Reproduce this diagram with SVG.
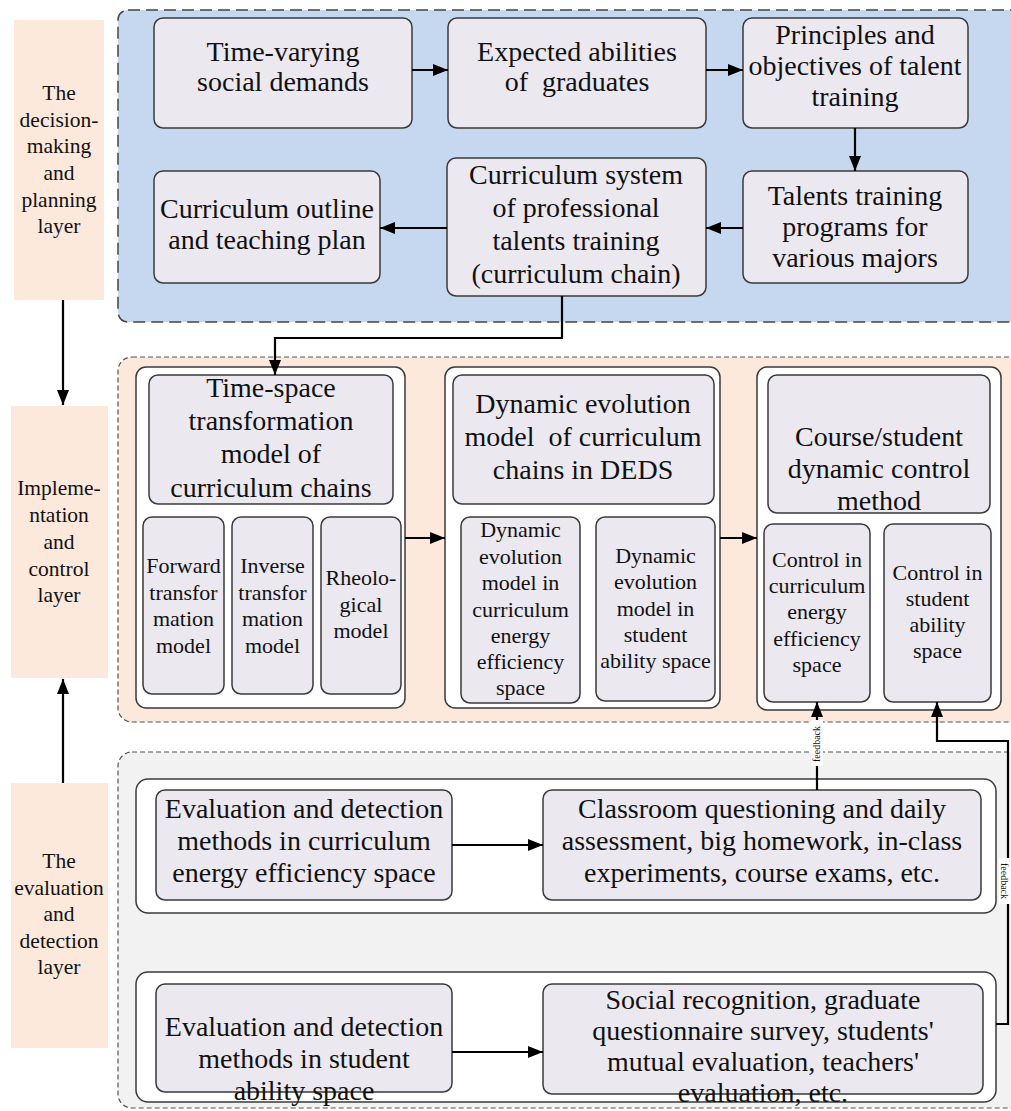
<svg xmlns="http://www.w3.org/2000/svg" width="1011" height="1111" viewBox="0 0 1011 1111">
<style>
text{font-family:'Liberation Serif','Times New Roman',serif;fill:#111;text-anchor:middle}
.big{font-size:28px}
.sm{font-size:22px}
.lay{font-size:21.5px}
.fb{font-size:10px}
.node{fill:#EBE8F0;stroke:#3a3a3a;stroke-width:1.5}
.grp{fill:#fff;stroke:#3a3a3a;stroke-width:1.5}
.layer{fill:#FCE9DC}
.con{fill:none;stroke:#000;stroke-width:2.2}
</style>
<defs>
<marker id="ah" markerUnits="userSpaceOnUse" markerWidth="16" markerHeight="12" refX="15" refY="6" orient="auto">
<path d="M0,0 L15,6 L0,12 z" fill="#000"/>
</marker>
</defs>
<rect width="1011" height="1111" fill="#fff"/>

<g id="containers">
<rect x="118" y="10" width="920" height="312" rx="10" fill="#C6D8EF" stroke="#444" stroke-width="1.5" stroke-dasharray="12,6"/>
<rect x="118" y="357" width="920" height="365" rx="14" fill="#FDE9DC" stroke="#555" stroke-width="1.2" stroke-dasharray="5,3"/>
<rect x="118" y="752" width="920" height="356" rx="14" fill="#F2F2F2" stroke="#555" stroke-width="1.2" stroke-dasharray="5,3"/>
</g>

<g id="layer1">
<rect class="layer" x="14" y="20" width="90" height="280"/>
<text class="lay"><tspan x="59" y="100">The</tspan><tspan x="59" y="127">decision-</tspan><tspan x="59" y="153">making</tspan><tspan x="59" y="180">and</tspan><tspan x="59" y="207">planning</tspan><tspan x="59" y="233">layer</tspan></text>
</g>
<g id="layer2">
<rect class="layer" x="11" y="406" width="97" height="272"/>
<text class="lay"><tspan x="59" y="495">Impleme-</tspan><tspan x="59" y="522">ntation</tspan><tspan x="59" y="549">and</tspan><tspan x="59" y="576">control</tspan><tspan x="59" y="602">layer</tspan></text>
</g>
<g id="layer3">
<rect class="layer" x="11" y="783" width="97" height="265"/>
<text class="lay"><tspan x="59" y="868">The</tspan><tspan x="59" y="895">evaluation</tspan><tspan x="59" y="921">and</tspan><tspan x="59" y="948">detection</tspan><tspan x="59" y="974">layer</tspan></text>
</g>

<g id="n-social">
<rect class="node" x="154" y="18" width="258" height="110" rx="9"/>
<text class="big"><tspan x="283" y="61">Time-varying</tspan><tspan x="283" y="91">social demands</tspan></text>
</g>
<g id="n-abilities">
<rect class="node" x="448" y="18" width="258" height="110" rx="9"/>
<text class="big"><tspan x="577" y="61">Expected abilities</tspan><tspan x="577" y="91">of&#160; graduates</tspan></text>
</g>
<g id="n-principles">
<rect class="node" x="743" y="18" width="225" height="110" rx="9"/>
<text class="big"><tspan x="855" y="44">Principles and</tspan><tspan x="855" y="75">objectives of talent</tspan><tspan x="855" y="106">training</tspan></text>
</g>
<g id="n-programs">
<rect class="node" x="743" y="171" width="225" height="112" rx="9"/>
<text class="big"><tspan x="855" y="205">Talents training</tspan><tspan x="855" y="236">programs for</tspan><tspan x="855" y="267">various majors</tspan></text>
</g>
<g id="n-system">
<rect class="node" x="447" y="158" width="259" height="138" rx="9"/>
<text class="big"><tspan x="576" y="184">Curriculum system</tspan><tspan x="576" y="217">of professional</tspan><tspan x="576" y="250">talents training</tspan><tspan x="576" y="283">(curriculum chain)</tspan></text>
</g>
<g id="n-outline">
<rect class="node" x="154" y="171" width="226" height="112" rx="9"/>
<text class="big"><tspan x="267" y="218">Curriculum outline</tspan><tspan x="267" y="249">and teaching plan</tspan></text>
</g>

<g id="g-timespace">
<rect class="grp" x="136" y="367" width="269" height="341" rx="10"/>
<rect class="node" x="149" y="375" width="244" height="129" rx="9"/>
<text class="big"><tspan x="271" y="397">Time-space</tspan><tspan x="271" y="430">transformation</tspan><tspan x="271" y="463">model of</tspan><tspan x="271" y="497">curriculum chains</tspan></text>
<rect class="node" x="143" y="517" width="81" height="177" rx="9"/>
<text class="sm"><tspan x="183.5" y="573">Forward</tspan><tspan x="183.5" y="599.5">transfor</tspan><tspan x="183.5" y="626">mation</tspan><tspan x="183.5" y="652.5">model</tspan></text>
<rect class="node" x="232" y="517" width="81" height="177" rx="9"/>
<text class="sm"><tspan x="272.5" y="573">Inverse</tspan><tspan x="272.5" y="599.5">transfor</tspan><tspan x="272.5" y="626">mation</tspan><tspan x="272.5" y="652.5">model</tspan></text>
<rect class="node" x="321" y="517" width="80" height="177" rx="9"/>
<text class="sm"><tspan x="361" y="585">Rheolo-</tspan><tspan x="361" y="611.5">gical</tspan><tspan x="361" y="638">model</tspan></text>
</g>

<g id="g-evolution">
<rect class="grp" x="445" y="367" width="275" height="341" rx="10"/>
<rect class="node" x="453" y="375" width="261" height="129" rx="9"/>
<text class="big"><tspan x="583" y="413">Dynamic evolution</tspan><tspan x="583" y="446">model&#160; of curriculum</tspan><tspan x="583" y="479">chains in DEDS</tspan></text>
<rect class="node" x="461" y="517" width="119" height="186" rx="9"/>
<text class="sm"><tspan x="520.5" y="537">Dynamic</tspan><tspan x="520.5" y="563.5">evolution</tspan><tspan x="520.5" y="590">model in</tspan><tspan x="520.5" y="616.5">curriculum</tspan><tspan x="520.5" y="643">energy</tspan><tspan x="520.5" y="669">efficiency</tspan><tspan x="520.5" y="695">space</tspan></text>
<rect class="node" x="596" y="517" width="119" height="184" rx="9"/>
<text class="sm"><tspan x="655.5" y="563">Dynamic</tspan><tspan x="655.5" y="589">evolution</tspan><tspan x="655.5" y="615.5">model in</tspan><tspan x="655.5" y="642">student</tspan><tspan x="655.5" y="668">ability space</tspan></text>
</g>

<g id="g-control">
<rect class="grp" x="757" y="367" width="244" height="343" rx="10"/>
<rect class="node" x="768" y="375" width="222" height="138" rx="9"/>
<text class="big"><tspan x="879" y="446">Course/student</tspan><tspan x="879" y="478">dynamic control</tspan><tspan x="879" y="510">method</tspan></text>
<rect class="node" x="764" y="524" width="106" height="178" rx="9"/>
<text class="sm"><tspan x="817" y="567">Control in</tspan><tspan x="817" y="593">curriculum</tspan><tspan x="817" y="619">energy</tspan><tspan x="817" y="645.5">efficiency</tspan><tspan x="817" y="672">space</tspan></text>
<rect class="node" x="884" y="524" width="107" height="178" rx="9"/>
<text class="sm"><tspan x="937.5" y="580">Control in</tspan><tspan x="937.5" y="606">student</tspan><tspan x="937.5" y="632">ability</tspan><tspan x="937.5" y="658">space</tspan></text>
</g>

<g id="g-eval-curriculum">
<rect class="grp" x="136" y="779" width="860" height="134" rx="12"/>
<rect class="node" x="156" y="790" width="296" height="110" rx="9"/>
<text class="big"><tspan x="304" y="818">Evaluation and detection</tspan><tspan x="304" y="850">methods in curriculum</tspan><tspan x="304" y="882">energy efficiency space</tspan></text>
<rect class="node" x="543" y="790" width="438" height="110" rx="9"/>
<text class="big"><tspan x="762" y="818">Classroom questioning and daily</tspan><tspan x="762" y="850">assessment, big homework, in-class</tspan><tspan x="762" y="882">experiments, course exams, etc.</tspan></text>
</g>

<g id="g-eval-student">
<rect class="grp" x="136" y="972" width="860" height="130" rx="12"/>
<rect class="node" x="156" y="984" width="296" height="108" rx="9"/>
<text class="big"><tspan x="304" y="1036">Evaluation and detection</tspan><tspan x="304" y="1068">methods in student</tspan><tspan x="304" y="1100">ability space</tspan></text>
<rect class="node" x="543" y="984" width="440" height="110" rx="9"/>
<text class="big"><tspan x="763" y="1009">Social recognition, graduate</tspan><tspan x="763" y="1040">questionnaire survey, students'</tspan><tspan x="763" y="1071">mutual evaluation, teachers'</tspan><tspan x="763" y="1102">evaluation, etc.</tspan></text>
</g>

<g id="connectors">
<line class="con" x1="412" y1="70" x2="448" y2="70" marker-end="url(#ah)"/>
<line class="con" x1="706" y1="70" x2="743" y2="70" marker-end="url(#ah)"/>
<line class="con" x1="855" y1="128" x2="855" y2="171" marker-end="url(#ah)"/>
<line class="con" x1="743" y1="228" x2="706" y2="228" marker-end="url(#ah)"/>
<line class="con" x1="447" y1="228" x2="380" y2="228" marker-end="url(#ah)"/>
<path class="con" d="M562 296 V338 H275 V375" marker-end="url(#ah)"/>
<line class="con" x1="63" y1="300" x2="63" y2="405" marker-end="url(#ah)"/>
<line class="con" x1="63" y1="783" x2="63" y2="679" marker-end="url(#ah)"/>
<line class="con" x1="405" y1="538" x2="445" y2="538" marker-end="url(#ah)"/>
<line class="con" x1="720" y1="538" x2="757" y2="538" marker-end="url(#ah)"/>
<line class="con" x1="452" y1="845" x2="543" y2="845" marker-end="url(#ah)"/>
<line class="con" x1="452" y1="1052" x2="543" y2="1052" marker-end="url(#ah)"/>
<line class="con" x1="817" y1="790" x2="817" y2="702" marker-end="url(#ah)"/>
<path class="con" d="M996 1024 H1008 V741 H937 V702" marker-end="url(#ah)"/>
<rect x="811" y="720" width="12" height="46" fill="#fff"/>
<text class="fb" transform="translate(820,744) rotate(-90)">feedback</text>
<rect x="999" y="858" width="12" height="46" fill="#fff"/>
<text class="fb" transform="translate(1001,881) rotate(90)">feedback</text>
</g>
</svg>
